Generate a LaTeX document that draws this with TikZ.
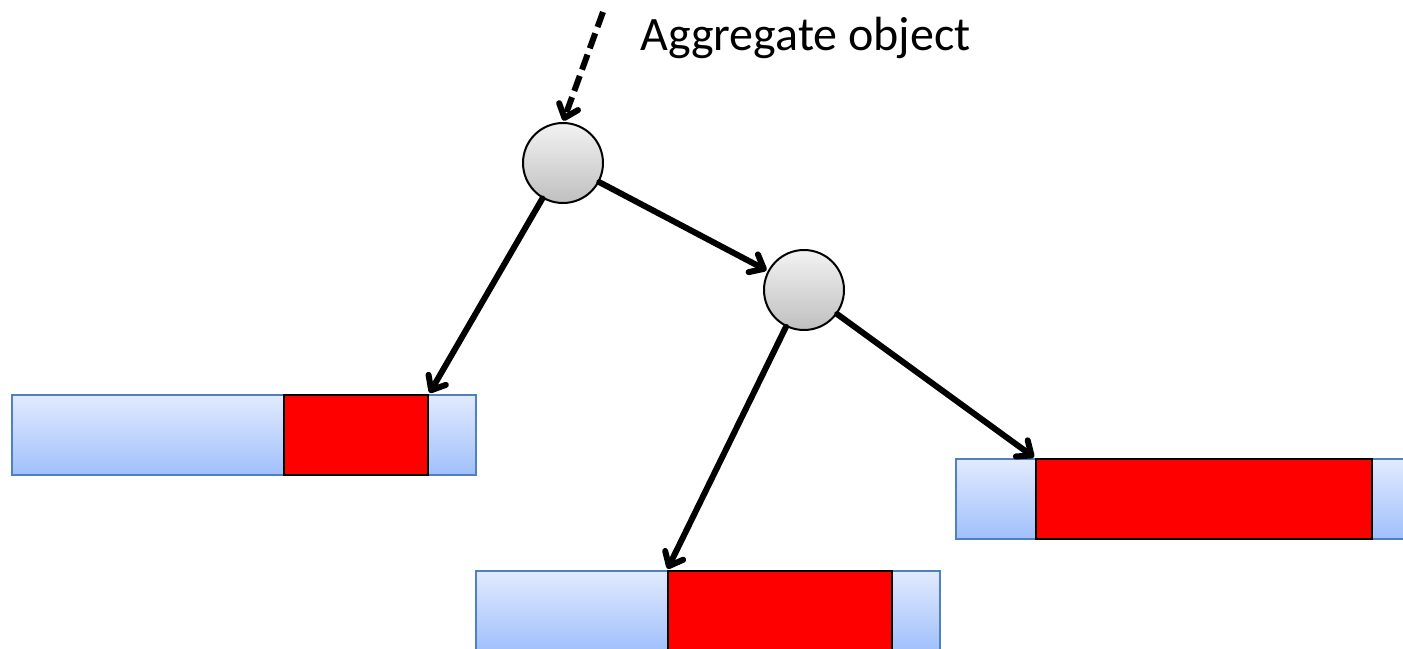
\documentclass[tikz,border=0pt]{standalone}
\usepackage{fontspec}
\setmainfont{Carlito}
\usetikzlibrary{arrows.meta}
\begin{document}
\begin{tikzpicture}[x=0.75pt,y=-0.75pt,
  circ/.style={circle,draw=black,line width=1.5pt,minimum size=60pt,inner sep=0pt,top color=gray!10,bottom color=gray!50},
  bar/.style={rectangle,draw={rgb,255:red,79;green,129;blue,189},line width=1.5pt,minimum height=60pt,inner sep=0pt,top color={rgb,255:red,226;green,234;blue,253},bottom color={rgb,255:red,160;green,192;blue,252}},
  redbox/.style={rectangle,draw=black,line width=1.5pt,fill=red,minimum height=60pt,inner sep=0pt},
  conn/.style={line width=4.5pt,line cap=round,-{Straight Barb[length=9pt,width=15pt,line width=4.5pt,round]},shorten >=1pt}
]
\useasboundingbox (0,0) rectangle (1403,649);
\clip (0,0) rectangle (1403,649);
\node[bar,minimum width=348pt] (b1) at (244,435) {};
\node[redbox,minimum width=108pt] (r1) at (356,435) {};
\node[bar,minimum width=348pt] (b2) at (708,611) {};
\node[redbox,minimum width=168pt] (r2) at (780,611) {};
\node[bar,minimum width=348pt] (b3) at (1188,499) {};
\node[redbox,minimum width=252pt] (r3) at (1204,499) {};
\node[circ] (c1) at (563,163) {};
\node[circ] (c2) at (804,290) {};
\coordinate (top) at (603,12);
\node[anchor=base west,inner sep=0pt,font=\fontsize{36}{43}\selectfont] (lab) at (640,51) {Aggregate object};
\draw[conn,line cap=butt,dash pattern=on 12pt off 5pt] (top) -- (c1.north);
\draw[conn] (c1) -- (r1.north east);
\draw[conn] (c1) -- (c2);
\draw[conn] (c2) -- (r2.north west);
\draw[conn] (c2) -- (r3.north west);
\end{tikzpicture}
\end{document}
